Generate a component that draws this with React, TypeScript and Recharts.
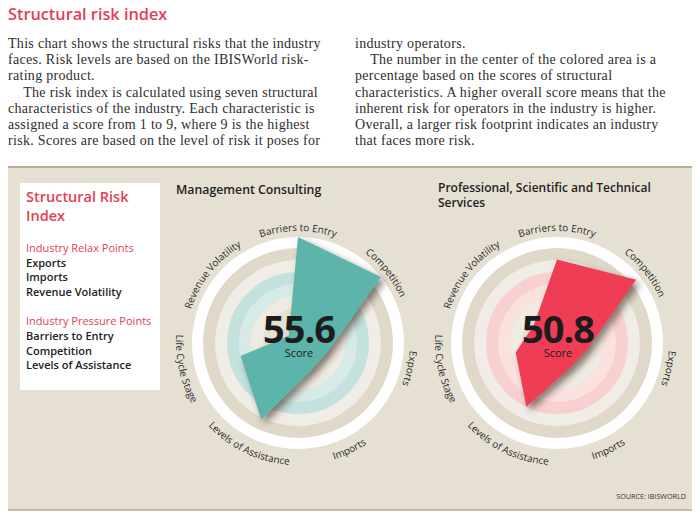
import React from "react";
import { PolarAngleAxis, PolarGrid, PolarRadiusAxis, Radar, RadarChart } from "recharts";

const axes = [
  "Barriers to Entry",
  "Competition",
  "Exports",
  "Imports",
  "Levels of Assistance",
  "Life Cycle Stage",
  "Revenue Volatility",
];
const consultingScores = [9, 9, 2.7, 2.6, 7.2, 5, 1];
const professionalScores = [7.1, 8.6, 2.6, 2.4, 6, 3.6, 2.5];

const relaxPoints = ["Exports", "Imports", "Revenue Volatility"];
const pressurePoints = ["Barriers to Entry", "Competition", "Levels of Assistance"];

const leftLines = [
  "This chart shows the structural risks that the industry",
  "faces. Risk levels are based on the IBISWorld risk-",
  "rating product.",
  "\u00a0\u00a0\u00a0\u00a0The risk index is calculated using seven structural",
  "characteristics of the industry. Each characteristic is",
  "assigned a score from 1 to 9, where 9 is the highest",
  "risk. Scores are based on the level of risk it poses for",
];
const rightLines = [
  "industry operators.",
  "\u00a0\u00a0\u00a0\u00a0The number in the center of the colored area is a",
  "percentage based on the scores of structural",
  "characteristics. A higher overall score means that the",
  "inherent risk for operators in the industry is higher.",
  "Overall, a larger risk footprint indicates an industry",
  "that faces more risk.",
];

const SANS = "'Open Sans', sans-serif";
const RED = "#e63d55";
const SIZE = 270;
const C = SIZE / 2;
const R = 106;

// ring bands in px: inner, outer
const bands = [
  [0, 35],
  [35, 47],
  [47, 59],
  [59, 71],
  [71, 83],
  [83, 95],
  [95, 106],
];
const tealRings = ["#e6e0d3", "#efebe3", "#d6ebe8", "#c3e1dd", "#f0ede6", "#e0d9ca", "#ffffff"];
const redRings = ["#e6e0d3", "#efebe3", "#fbe1de", "#f8d0cf", "#f0ede6", "#e0d9ca", "#ffffff"];

function CurvedTick(props: any) {
  const { payload, index, uid } = props;
  const cx = props.cx ?? C;
  const cy = props.cy ?? C;
  const a = payload.coordinate;
  const ccw = a < -40 && a > -200;
  const r = ccw ? 122 : 112;
  const span = 75;
  const pt = (deg: number) => {
    const rad = (deg * Math.PI) / 180;
    return `${cx + r * Math.cos(rad)} ${cy - r * Math.sin(rad)}`;
  };
  const d = ccw
    ? `M ${pt(a - span)} A ${r} ${r} 0 0 0 ${pt(a + span)}`
    : `M ${pt(a + span)} A ${r} ${r} 0 0 1 ${pt(a - span)}`;
  const id = `${uid}-arc-${index}`;
  return (
    <g>
      <path id={id} d={d} fill="none" stroke="none" />
      <text fontSize={10} fill="#2b2b2b" fontFamily={SANS}>
        <textPath href={`#${id}`} startOffset="50%" textAnchor="middle">
          {payload.value}
        </textPath>
      </text>
    </g>
  );
}

function RiskRadar({
  uid,
  scores,
  color,
  rings,
}: {
  uid: string;
  scores: number[];
  color: string;
  rings: string[];
}) {
  const data = axes.map((name, i) => ({ name, score: scores[i] }));
  return (
    <RadarChart width={SIZE} height={SIZE} cx={C} cy={C} outerRadius={R} data={data} margin={{ top: 0, right: 0, bottom: 0, left: 0 }}>
      {bands.map(([a, b], i) => (
        <PolarGrid
          key={i}
          gridType="circle"
          radialLines={false}
          polarRadius={[(a + b) / 2]}
          stroke={rings[i]}
          strokeWidth={b - a}
        />
      ))}
      <PolarRadiusAxis domain={[0, 9]} tick={false} axisLine={false} />
      <PolarAngleAxis
        dataKey="name"
        axisLine={false}
        tickLine={false}
        tick={(p: any) => <CurvedTick {...p} uid={uid} />}
      />
      <Radar
        dataKey="score"
        fill={color}
        fillOpacity={1}
        stroke="none"
        filter="url(#polyShadow)"
        isAnimationActive={false}
      />
    </RadarChart>
  );
}

function Score({ left, value }: { left: number; value: string }) {
  return (
    <div style={{ position: "absolute", left: left - 60, top: 311, width: 120, textAlign: "center", fontFamily: SANS, color: "#1c1c1c" }}>
      <div style={{ fontSize: 38, fontWeight: 700, lineHeight: "35px", letterSpacing: -1 }}>{value}</div>
      <div style={{ fontSize: 11, lineHeight: "12px", marginTop: 1 }}>Score</div>
    </div>
  );
}

export default function App() {
  const para: React.CSSProperties = {
    position: "absolute",
    top: 36,
    fontFamily: "'Liberation Serif', serif",
    fontSize: 14,
    letterSpacing: 0.3,
    lineHeight: "16.2px",
    color: "#2e2e2e",
    whiteSpace: "nowrap",
  };
  const item: React.CSSProperties = { fontSize: 11, fontWeight: 600, color: "#222", lineHeight: "14.6px" };
  const sub: React.CSSProperties = { fontSize: 11, color: RED, lineHeight: "14.6px" };
  return (
    <div style={{ position: "absolute", left: 0, top: 0, width: 700, height: 516, background: "#fff", overflow: "hidden" }}>
      <svg width={0} height={0} style={{ position: "absolute" }}>
        <defs>
          <filter id="polyShadow" x="-30%" y="-30%" width="160%" height="160%">
            <feDropShadow dx={4} dy={4} stdDeviation={3.5} floodColor="#2e2418" floodOpacity={0.55} />
          </filter>
        </defs>
      </svg>
      <div style={{ position: "absolute", left: 8, top: 3, fontFamily: SANS, fontWeight: 600, fontSize: 16.3, color: RED }}>
        Structural risk index
      </div>
      <div style={{ ...para, left: 8 }}>
        {leftLines.map((l, i) => (
          <div key={i}>{l}</div>
        ))}
      </div>
      <div style={{ ...para, left: 355 }}>
        {rightLines.map((l, i) => (
          <div key={i}>{l}</div>
        ))}
      </div>

      <div
        style={{
          position: "absolute",
          left: 8,
          top: 166,
          width: 684,
          height: 341,
          background: "#e6e0d3",
          borderTop: "2px solid #b8ae9c",
          borderBottom: "2px solid #c4bba9",
        }}
      />
      <div style={{ position: "absolute", left: 20, top: 183, width: 140, height: 207, background: "#fff", fontFamily: SANS }}>
        <div style={{ position: "absolute", left: 6, top: 4 }}>
          <div style={{ fontSize: 14.5, fontWeight: 600, color: RED, lineHeight: "19px" }}>
            Structural Risk
            <br />
            Index
          </div>
          <div style={{ height: 16 }} />
          <div style={sub}>Industry Relax Points</div>
          {relaxPoints.map((t) => (
            <div key={t} style={item}>{t}</div>
          ))}
          <div style={{ height: 15 }} />
          <div style={sub}>Industry Pressure Points</div>
          {pressurePoints.map((t) => (
            <div key={t} style={item}>{t}</div>
          ))}
        </div>
      </div>

      <div style={{ position: "absolute", left: 176, top: 181, fontFamily: SANS, fontWeight: 600, fontSize: 12.3, color: "#222" }}>
        Management Consulting
      </div>
      <div style={{ position: "absolute", left: 438, top: 180, fontFamily: SANS, fontWeight: 600, fontSize: 12, color: "#222", lineHeight: "15px" }}>
        Professional, Scientific and Technical
        <br />
        Services
      </div>

      <div style={{ position: "absolute", left: 298 - C, top: 343 - C }}>
        <RiskRadar uid="mc" scores={consultingScores} color="#5db4aa" rings={tealRings} />
      </div>
      <div style={{ position: "absolute", left: 557 - C, top: 343 - C }}>
        <RiskRadar uid="ps" scores={professionalScores} color="#ef3e57" rings={redRings} />
      </div>
      <Score left={299} value="55.6" />
      <Score left={558} value="50.8" />

      <div style={{ position: "absolute", right: 14, top: 491, fontFamily: SANS, fontSize: 7.2, color: "#333" }}>
        SOURCE: IBISWORLD
      </div>
    </div>
  );
}
